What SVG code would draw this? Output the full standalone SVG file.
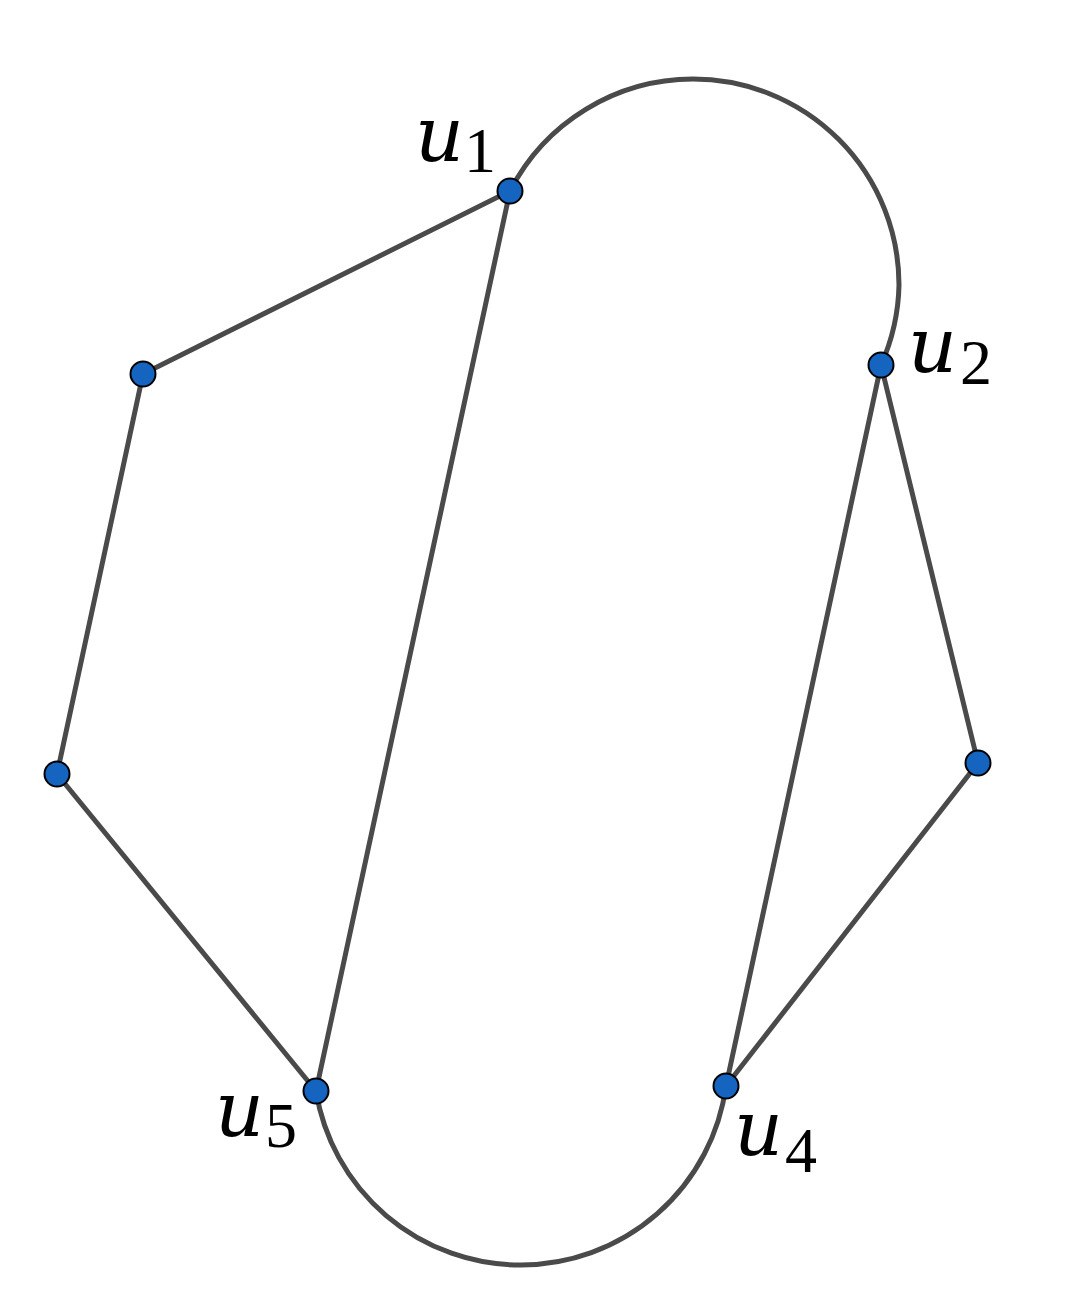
<svg xmlns="http://www.w3.org/2000/svg" width="1073" height="1313" viewBox="0 0 1073 1313">
<style>
.e{stroke:#4a4a4a;stroke-width:5;fill:none;stroke-linecap:round}
.n{fill:#1565c0;stroke:#000;stroke-width:2}
.u{font-family:"DejaVu Serif",serif;font-style:italic;font-size:76px;fill:#000}
.s{font-family:"Liberation Serif",serif;font-size:64px;fill:#000}
</style>
<rect width="1073" height="1313" fill="#fff"/>
<g id="edges">
<path class="e" d="M510,191 A206,206 0 0 1 693,79 A206,206 0 0 1 899,285 A206,206 0 0 1 881,365"/>
<path class="e" d="M316,1091 A207,207 0 0 0 521,1265 A207,207 0 0 0 726,1086"/>
<line class="e" x1="510" y1="191" x2="143" y2="374"/>
<line class="e" x1="143" y1="374" x2="57" y2="774"/>
<line class="e" x1="57" y1="774" x2="316" y2="1091"/>
<line class="e" x1="510" y1="191" x2="316" y2="1091"/>
<line class="e" x1="881" y1="365" x2="726" y2="1086"/>
<line class="e" x1="881" y1="365" x2="978" y2="763"/>
<line class="e" x1="978" y1="763" x2="726" y2="1086"/>
</g>
<g id="u1"><circle class="n" cx="510" cy="191" r="12.5"/><text class="u" x="415" y="161">u</text><text class="s" x="464" y="172">1</text></g>
<g id="a"><circle class="n" cx="143" cy="374" r="12.5"/></g>
<g id="b"><circle class="n" cx="57" cy="774" r="12.5"/></g>
<g id="u5"><circle class="n" cx="316" cy="1091" r="12.5"/><text class="u" x="215" y="1136">u</text><text class="s" x="265" y="1147">5</text></g>
<g id="u4"><circle class="n" cx="726" cy="1086" r="12.5"/><text class="u" x="734" y="1155">u</text><text class="s" x="785" y="1172">4</text></g>
<g id="c"><circle class="n" cx="978" cy="763" r="12.5"/></g>
<g id="u2"><circle class="n" cx="881" cy="365" r="12.5"/><text class="u" x="908" y="372">u</text><text class="s" x="960" y="384">2</text></g>
</svg>
